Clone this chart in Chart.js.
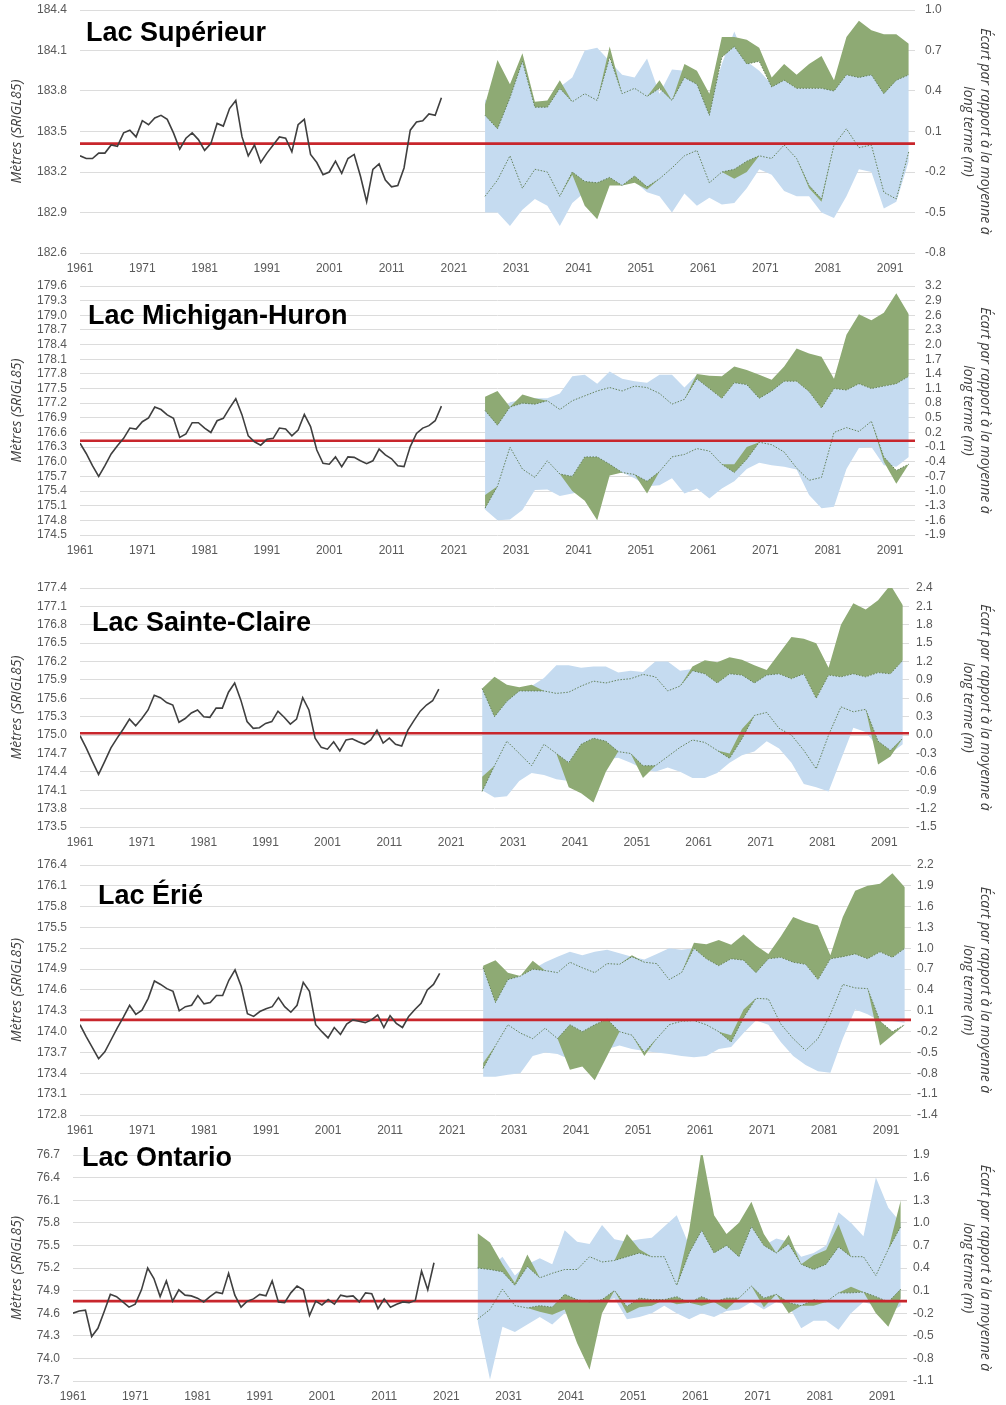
<!DOCTYPE html>
<html>
<head>
<meta charset="utf-8">
<script src="https://cdn.jsdelivr.net/npm/chart.js@4.4.1/dist/chart.umd.min.js"></script>
<style>
  html, body { margin: 0; padding: 0; background: #fff; }
  #page { position: relative; width: 1006px; height: 1405px; overflow: hidden; }
  .panel { position: absolute; left: 0; width: 1006px; }
  .lake { position: absolute; font-family: 'Liberation Sans', Arial, sans-serif; font-weight: bold;
          font-size: 27px; line-height: 27px; color: #000; white-space: nowrap; }
</style>
</head>
<body>
<div id="page"></div>
<script>
// x categories
const histYears = [];
for (let y = 1961; y <= 2019; y++) histYears.push(y);
const projYears = [2026, 2028, 2030, 2032, 2034, 2036, 2038, 2040, 2042, 2044, 2046, 2048, 2050, 2052, 2054, 2056, 2058, 2060,
  2062, 2064, 2066, 2068, 2070, 2072, 2074, 2076, 2078, 2080, 2082, 2084, 2086, 2088, 2090, 2092, 2094];
const xTickYears = [1961, 1971, 1981, 1991, 2001, 2011, 2021, 2031, 2041, 2051, 2061, 2071, 2081, 2091];

const lakeNames = ['Lac Supérieur', 'Lac Michigan-Huron', 'Lac Sainte-Claire', 'Lac Érié', 'Lac Ontario'];
const longTermMeans = [183.41, 176.43, 175.03, 174.17, 74.76];
const leftRanges = [[182.6, 184.4], [174.5, 179.6], [173.5, 177.4], [172.8, 176.4], [73.7, 76.7]];
const rightRanges = [[-0.8, 1.0], [-1.9, 3.2], [-1.5, 2.4], [-1.4, 2.2], [-1.1, 1.9]];

// observed levels (m, SRIGL85)
const supHist = [183.32, 183.30, 183.30, 183.34, 183.34, 183.40, 183.39, 183.49, 183.51, 183.46,
  183.58, 183.55, 183.60, 183.62, 183.59, 183.49, 183.37, 183.45, 183.49, 183.44,
  183.36, 183.41, 183.56, 183.54, 183.67, 183.73, 183.46, 183.32, 183.40, 183.27,
  183.34, 183.40, 183.46, 183.45, 183.35, 183.55, 183.59, 183.33, 183.27, 183.18,
  183.20, 183.28, 183.19, 183.30, 183.33, 183.17, 182.98, 183.22, 183.26, 183.14,
  183.09, 183.10, 183.23, 183.51, 183.57, 183.58, 183.63, 183.62, 183.75];
const michHist = [176.38, 176.17, 175.92, 175.70, 175.92, 176.16, 176.33, 176.48, 176.69, 176.67,
  176.82, 176.90, 177.12, 177.07, 176.96, 176.89, 176.50, 176.57, 176.80, 176.80,
  176.69, 176.60, 176.84, 176.89, 177.10, 177.29, 176.96, 176.53, 176.41, 176.34,
  176.46, 176.48, 176.69, 176.67, 176.53, 176.65, 176.97, 176.72, 176.24, 175.97,
  175.95, 176.10, 175.90, 176.10, 176.09, 176.02, 175.96, 176.02, 176.26, 176.14,
  176.06, 175.92, 175.90, 176.31, 176.58, 176.69, 176.74, 176.84, 177.14];
const clairHist = [174.99, 174.79, 174.57, 174.36, 174.57, 174.79, 174.95, 175.10, 175.26, 175.15,
  175.27, 175.41, 175.65, 175.61, 175.53, 175.49, 175.21, 175.27, 175.36, 175.41,
  175.30, 175.29, 175.44, 175.44, 175.70, 175.85, 175.57, 175.22, 175.11, 175.12,
  175.19, 175.22, 175.39, 175.29, 175.18, 175.26, 175.61, 175.41, 174.95, 174.80,
  174.77, 174.89, 174.74, 174.92, 174.94, 174.89, 174.85, 174.92, 175.08, 174.87,
  174.95, 174.85, 174.82, 175.08, 175.24, 175.39, 175.49, 175.56, 175.75];
const erieHist = [174.10, 173.93, 173.77, 173.61, 173.71, 173.88, 174.05, 174.21, 174.38, 174.25,
  174.31, 174.48, 174.73, 174.68, 174.62, 174.58, 174.30, 174.36, 174.38, 174.52,
  174.40, 174.42, 174.52, 174.52, 174.74, 174.89, 174.65, 174.26, 174.22, 174.29,
  174.33, 174.36, 174.49, 174.36, 174.28, 174.38, 174.71, 174.58, 174.10, 174.00,
  173.91, 174.06, 173.96, 174.11, 174.17, 174.15, 174.13, 174.17, 174.24, 174.06,
  174.23, 174.12, 174.06, 174.22, 174.32, 174.41, 174.60, 174.68, 174.84];
const ontHist = [74.60, 74.63, 74.64, 74.29, 74.40, 74.62, 74.85, 74.82, 74.75, 74.68,
  74.72, 74.91, 75.20, 75.06, 74.82, 75.03, 74.76, 74.91, 74.84, 74.83,
  74.80, 74.75, 74.82, 74.88, 74.86, 75.13, 74.84, 74.68, 74.76, 74.79,
  74.85, 74.83, 75.03, 74.75, 74.74, 74.87, 74.96, 74.91, 74.57, 74.76,
  74.71, 74.78, 74.72, 74.84, 74.82, 74.83, 74.75, 74.87, 74.86, 74.66,
  74.79, 74.68, 74.72, 74.75, 74.74, 74.77, 75.16, 74.91, 75.27];

// projections, deviation from long-term mean (m)
// Dhi/Dlo = dotted lines, Ghi/Glo = green envelope edge, Bhi/Blo = blue envelope
const supDhi = [0.22, 0.12, 0.35, 0.62, 0.28, 0.28, 0.42, 0.32, 0.38, 0.33, 0.65, 0.38, 0.42, 0.36, 0.42, 0.33, 0.5, 0.45, 0.22, 0.65, 0.73, 0.6, 0.62, 0.43, 0.48, 0.42, 0.42, 0.42, 0.4, 0.52, 0.5, 0.52, 0.38, 0.48, 0.52];
const supGhi = [0.3, 0.63, 0.45, 0.68, 0.32, 0.33, 0.48, 0.32, 0.38, 0.33, 0.73, 0.38, 0.42, 0.36, 0.48, 0.33, 0.6, 0.55, 0.38, 0.8, 0.8, 0.78, 0.72, 0.5, 0.6, 0.52, 0.6, 0.66, 0.48, 0.8, 0.92, 0.85, 0.82, 0.82, 0.75];
const supBhi = [0.34, 0.2, 0.42, 0.63, 0.3, 0.28, 0.43, 0.5, 0.7, 0.72, 0.62, 0.52, 0.5, 0.64, 0.38, 0.56, 0.55, 0.47, 0.3, 0.6, 0.84, 0.62, 0.55, 0.45, 0.48, 0.42, 0.42, 0.42, 0.42, 0.52, 0.52, 0.54, 0.4, 0.5, 0.52];
const supBlo = [-0.5, -0.5, -0.6, -0.48, -0.4, -0.45, -0.6, -0.43, -0.35, -0.35, -0.28, -0.3, -0.27, -0.35, -0.38, -0.5, -0.36, -0.45, -0.39, -0.44, -0.43, -0.32, -0.18, -0.22, -0.34, -0.38, -0.38, -0.5, -0.54, -0.38, -0.18, -0.2, -0.47, -0.42, -0.12];
const supDlo = [-0.38, -0.26, -0.08, -0.32, -0.18, -0.2, -0.38, -0.2, -0.27, -0.28, -0.24, -0.3, -0.23, -0.31, -0.25, -0.17, -0.08, -0.04, -0.28, -0.2, -0.18, -0.12, -0.08, -0.1, 0.0, -0.1, -0.3, -0.4, 0.0, 0.12, -0.02, 0.0, -0.35, -0.4, -0.05];
const supGlo = [-0.38, -0.26, -0.08, -0.32, -0.18, -0.2, -0.38, -0.22, -0.45, -0.55, -0.3, -0.3, -0.28, -0.33, -0.25, -0.17, -0.08, -0.04, -0.28, -0.2, -0.25, -0.2, -0.08, -0.1, 0.0, -0.1, -0.32, -0.42, 0.0, 0.12, -0.02, 0.0, -0.35, -0.4, -0.05];

const michDhi = [0.65, 0.35, 0.72, 0.8, 0.78, 0.85, 0.67, 0.85, 0.95, 1.05, 1.12, 1.05, 1.15, 1.12, 1.0, 0.78, 0.88, 1.3, 1.1, 0.9, 1.22, 1.18, 0.9, 1.05, 1.25, 1.25, 1.04, 0.7, 1.1, 1.07, 1.2, 1.1, 1.15, 1.2, 1.35];
const michGhi = [0.93, 1.05, 0.72, 0.98, 0.9, 0.85, 0.67, 0.85, 0.95, 1.05, 1.12, 1.05, 1.15, 1.12, 1.0, 0.78, 0.88, 1.4, 1.36, 1.35, 1.55, 1.48, 1.38, 1.28, 1.55, 1.92, 1.82, 1.75, 1.3, 2.2, 2.62, 2.5, 2.65, 3.05, 2.62];
const michBhi = [0.9, 0.5, 0.82, 0.87, 0.9, 0.9, 1.0, 1.35, 1.38, 1.2, 1.45, 1.3, 1.25, 1.22, 1.38, 1.38, 1.12, 1.38, 1.1, 0.9, 1.22, 1.2, 1.2, 1.2, 1.25, 1.25, 1.04, 0.7, 1.1, 1.07, 1.2, 1.1, 1.15, 1.2, 1.35];
const michBlo = [-1.38, -1.6, -1.58, -1.39, -0.98, -0.97, -1.1, -1.05, -1.0, -0.9, -0.6, -0.62, -0.74, -0.9, -0.88, -0.74, -1.05, -0.95, -1.15, -0.95, -0.8, -0.55, -0.42, -0.47, -0.5, -0.56, -1.08, -1.35, -1.32, -0.55, -0.12, -0.1, -0.47, -0.5, -0.3];
const michDlo = [-1.35, -0.9, -0.1, -0.55, -0.72, -0.38, -0.65, -0.7, -0.3, -0.3, -0.45, -0.62, -0.66, -0.8, -0.6, -0.3, -0.25, -0.13, -0.18, -0.45, -0.62, -0.35, 0.0, -0.05, -0.2, -0.53, -0.78, -0.72, 0.2, 0.3, 0.22, 0.43, -0.3, -0.58, -0.45];
const michGlo = [-1.08, -0.9, -0.1, -0.55, -0.72, -0.38, -0.65, -1.0, -1.2, -1.6, -0.68, -0.62, -0.66, -1.05, -0.6, -0.3, -0.25, -0.13, -0.18, -0.45, -0.45, -0.1, 0.0, -0.05, -0.2, -0.53, -0.78, -0.72, 0.2, 0.3, 0.22, 0.43, -0.4, -0.85, -0.45];

const clairDhi = [0.76, 0.3, 0.55, 0.72, 0.72, 0.72, 0.68, 0.7, 0.8, 0.88, 0.85, 0.9, 0.92, 0.99, 0.95, 0.72, 0.8, 1.05, 1.0, 0.85, 1.0, 0.98, 0.85, 0.98, 1.0, 0.92, 1.0, 0.6, 0.98, 0.95, 1.0, 0.95, 1.02, 1.0, 1.22];
const clairGhi = [0.76, 0.95, 0.82, 0.78, 0.82, 0.72, 0.68, 0.7, 0.8, 0.88, 0.85, 0.9, 0.92, 0.99, 0.95, 0.72, 0.8, 1.12, 1.22, 1.19, 1.27, 1.23, 1.14, 1.06, 1.33, 1.6, 1.57, 1.5, 1.1, 1.8, 2.15, 2.05, 2.2, 2.45, 2.12];
const clairBhi = [0.76, 0.4, 0.6, 0.72, 0.8, 0.93, 1.14, 1.14, 1.1, 1.12, 1.12, 1.02, 1.05, 1.03, 1.2, 1.2, 1.05, 1.08, 1.0, 0.85, 1.0, 0.98, 1.0, 1.0, 1.0, 0.92, 1.0, 0.6, 0.98, 0.95, 1.0, 0.95, 1.02, 1.0, 1.22];
const clairBlo = [-0.9, -1.02, -1.0, -0.75, -0.62, -0.65, -0.72, -0.75, -0.7, -0.6, -0.4, -0.37, -0.45, -0.55, -0.6, -0.53, -0.6, -0.7, -0.7, -0.62, -0.45, -0.33, -0.27, -0.1, -0.22, -0.45, -0.8, -0.85, -0.92, -0.4, 0.12, 0.05, -0.2, -0.3, -0.15];
const clairDlo = [-0.92, -0.5, -0.1, -0.3, -0.5, -0.15, -0.3, -0.45, -0.15, -0.05, -0.1, -0.27, -0.3, -0.5, -0.5, -0.35, -0.2, -0.08, -0.12, -0.25, -0.38, -0.06, 0.32, 0.37, 0.11, 0.0, -0.25, -0.55, 0.0, 0.46, 0.38, 0.42, -0.1, -0.25, -0.05];
const clairGlo = [-0.68, -0.5, -0.1, -0.3, -0.5, -0.15, -0.3, -0.85, -0.95, -1.1, -0.6, -0.27, -0.3, -0.7, -0.5, -0.35, -0.2, -0.08, -0.12, -0.25, -0.3, 0.1, 0.32, 0.37, 0.11, 0.0, -0.25, -0.55, 0.0, 0.46, 0.38, 0.42, -0.48, -0.35, -0.05];

const erieDhi = [0.72, 0.22, 0.55, 0.6, 0.7, 0.68, 0.65, 0.8, 0.72, 0.65, 0.78, 0.77, 0.88, 0.8, 0.78, 0.55, 0.65, 1.0, 0.85, 0.75, 0.85, 0.83, 0.65, 0.85, 0.87, 0.8, 0.77, 0.55, 0.85, 0.88, 0.92, 0.85, 0.95, 0.87, 1.0];
const erieGhi = [0.75, 0.83, 0.65, 0.6, 0.82, 0.68, 0.65, 0.8, 0.72, 0.65, 0.78, 0.77, 0.9, 0.8, 0.78, 0.55, 0.65, 1.08, 1.06, 1.12, 1.05, 1.2, 1.04, 0.92, 1.17, 1.45, 1.38, 1.33, 0.9, 1.45, 1.83, 1.9, 1.93, 2.08, 1.88];
const erieBhi = [0.72, 0.25, 0.58, 0.6, 0.7, 0.8, 0.88, 0.95, 0.9, 0.95, 0.98, 0.93, 0.88, 0.84, 0.92, 1.0, 0.98, 1.0, 0.85, 0.75, 0.85, 0.83, 0.75, 0.85, 0.87, 0.8, 0.77, 0.55, 0.85, 0.88, 0.92, 0.85, 0.95, 0.87, 1.0];
const erieBlo = [-0.85, -0.85, -0.82, -0.8, -0.55, -0.5, -0.52, -0.6, -0.6, -0.6, -0.45, -0.4, -0.45, -0.48, -0.5, -0.52, -0.55, -0.57, -0.55, -0.45, -0.42, -0.22, -0.04, -0.1, -0.35, -0.55, -0.68, -0.77, -0.79, -0.3, 0.12, 0.05, -0.05, -0.05, -0.07];
const erieDlo = [-0.73, -0.4, -0.1, -0.22, -0.3, -0.15, -0.3, -0.1, -0.2, -0.1, -0.02, -0.2, -0.25, -0.5, -0.3, -0.1, -0.05, -0.04, -0.1, -0.2, -0.35, 0.0, 0.28, 0.27, -0.09, -0.3, -0.47, -0.3, 0.05, 0.48, 0.43, 0.42, -0.05, -0.2, -0.1];
const erieGlo = [-0.65, -0.4, -0.1, -0.22, -0.3, -0.15, -0.3, -0.75, -0.7, -0.9, -0.55, -0.2, -0.25, -0.55, -0.3, -0.1, -0.05, -0.04, -0.1, -0.2, -0.25, 0.12, 0.28, 0.27, -0.09, -0.3, -0.47, -0.3, 0.05, 0.48, 0.43, 0.42, -0.4, -0.25, -0.1];

const ontDhi = [0.4, 0.38, 0.35, 0.17, 0.42, 0.27, 0.33, 0.38, 0.38, 0.55, 0.48, 0.5, 0.55, 0.6, 0.55, 0.55, 0.17, 0.6, 0.9, 0.6, 0.7, 0.55, 0.95, 0.7, 0.6, 0.72, 0.45, 0.38, 0.45, 0.68, 0.55, 0.55, 0.3, 0.65, 0.95];
const ontGhi = [0.86, 0.74, 0.45, 0.2, 0.58, 0.27, 0.33, 0.38, 0.38, 0.55, 0.48, 0.5, 0.85, 0.65, 0.55, 0.55, 0.17, 0.9, 1.98, 1.1, 0.85, 1.0, 1.28, 0.85, 0.6, 0.84, 0.45, 0.57, 0.64, 0.98, 0.55, 0.55, 0.3, 0.65, 1.3];
const ontBhi = [0.5, 0.4, 0.55, 0.3, 0.45, 0.53, 0.45, 0.9, 0.75, 0.72, 0.97, 0.78, 0.75, 0.78, 0.8, 0.95, 1.1, 0.7, 0.95, 0.6, 0.72, 0.69, 0.95, 0.7, 0.79, 0.75, 0.55, 0.6, 0.7, 1.14, 1.0, 0.82, 1.6, 1.2, 1.0];
const ontBlo = [-0.3, -1.08, -0.38, -0.45, -0.35, -0.25, -0.35, -0.2, -0.1, -0.15, -0.05, 0.0, -0.28, -0.25, -0.2, -0.1, -0.2, -0.28, -0.2, -0.25, -0.17, -0.15, -0.05, -0.15, -0.05, -0.1, -0.4, -0.3, -0.3, -0.42, -0.2, -0.05, -0.1, -0.2, -0.1];
const ontDlo = [-0.28, -0.15, 0.12, -0.1, -0.13, -0.1, -0.12, 0.05, -0.02, -0.05, -0.02, 0.1, -0.11, 0.0, -0.02, -0.02, 0.02, -0.06, 0.02, -0.05, 0.0, 0.0, 0.16, 0.0, 0.05, -0.06, -0.1, -0.02, -0.05, 0.07, 0.07, 0.08, 0.02, -0.05, 0.12];
const ontGlo = [-0.28, -0.15, 0.12, -0.1, -0.13, -0.18, -0.22, -0.15, -0.6, -0.95, -0.2, 0.1, -0.2, -0.12, -0.1, -0.02, -0.08, -0.06, -0.1, -0.05, -0.15, 0.0, 0.16, -0.12, 0.05, -0.2, -0.1, -0.1, -0.05, 0.07, 0.15, 0.08, -0.2, -0.38, 0.0];

const hists = [supHist, michHist, clairHist, erieHist, ontHist];
const dhis = [supDhi, michDhi, clairDhi, erieDhi, ontDhi];
const ghis = [supGhi, michGhi, clairGhi, erieGhi, ontGhi];
const bhis = [supBhi, michBhi, clairBhi, erieBhi, ontBhi];
const blos = [supBlo, michBlo, clairBlo, erieBlo, ontBlo];
const dlos = [supDlo, michDlo, clairDlo, erieDlo, ontDlo];
const glos = [supGlo, michGlo, clairGlo, erieGlo, ontGlo];

// page layout of each plot area (px) and title position
const layouts = [
  { top: 10,   bottom: 253,  left: 80, right: 915, nameX: 86, nameY: 19,   rPad: 10 },
  { top: 286,  bottom: 535,  left: 80, right: 915, nameX: 88, nameY: 302,  rPad: 10 },
  { top: 588,  bottom: 827,  left: 80, right: 909, nameX: 92, nameY: 609,  rPad: 7 },
  { top: 865,  bottom: 1115, left: 80, right: 911, nameX: 98, nameY: 882,  rPad: 6 },
  { top: 1155, bottom: 1381, left: 73, right: 907, nameX: 82, nameY: 1144, rPad: 6 }
];

const BLUE = 'rgb(197, 219, 240)';
const GREEN = 'rgb(142, 170, 116)';
const DOT = 'rgba(95, 125, 85, 0.95)';
const GRID = '#dcdcdc';
const TICK = '#595959';
const TOP_PAD = 22;

Chart.defaults.font.family = "'Liberation Sans', Arial, sans-serif";
Chart.defaults.font.size = 12;

function pts(xs, ys) {
  return xs.map((x, i) => ({ x: x, y: ys[i] }));
}

const page = document.getElementById('page');

function drawPanel(i) {
  const L = layouts[i];
  const canvasTop = L.top - TOP_PAD;
  const h = L.bottom - canvasTop + 26;

  const wrap = document.createElement('div');
  wrap.className = 'panel';
  wrap.style.top = canvasTop + 'px';
  wrap.style.height = h + 'px';
  const canvas = document.createElement('canvas');
  canvas.width = 1006;
  canvas.height = h;
  wrap.appendChild(canvas);
  page.appendChild(wrap);

  const name = document.createElement('div');
  name.className = 'lake';
  name.textContent = lakeNames[i];
  name.style.left = L.nameX + 'px';
  name.style.top = L.nameY + 'px';
  page.appendChild(name);

  const noLine = 'rgba(0,0,0,0)';

  new Chart(canvas, {
    type: 'line',
    data: {
      datasets: [
        { data: pts(histYears, hists[i]), yAxisID: 'yL', borderColor: '#3f3f3f', borderWidth: 1.6, fill: false },
        { data: [{ x: 1961, y: longTermMeans[i] }, { x: 2095, y: longTermMeans[i] }], yAxisID: 'yL',
          borderColor: 'rgb(200, 38, 44)', borderWidth: 2.6, fill: false },
        { data: pts(projYears, dhis[i]), yAxisID: 'yR', borderColor: DOT, borderWidth: 1, borderDash: [1.5, 1.5], fill: false },
        { data: pts(projYears, dlos[i]), yAxisID: 'yR', borderColor: DOT, borderWidth: 1, borderDash: [1.5, 1.5], fill: false },
        { data: pts(projYears, ghis[i]), yAxisID: 'yR', borderColor: noLine, borderWidth: 0, backgroundColor: GREEN, fill: 2 },
        { data: pts(projYears, glos[i]), yAxisID: 'yR', borderColor: noLine, borderWidth: 0, backgroundColor: GREEN, fill: 3 },
        { data: pts(projYears, bhis[i]), yAxisID: 'yR', borderColor: noLine, borderWidth: 0, backgroundColor: BLUE, fill: 7 },
        { data: pts(projYears, blos[i]), yAxisID: 'yR', borderColor: noLine, borderWidth: 0, fill: false }
      ]
    },
    options: {
      responsive: false,
      animation: false,
      events: [],
      layout: { padding: { top: TOP_PAD, left: 0, right: 0, bottom: 0 } },
      elements: { point: { radius: 0 }, line: { tension: 0 } },
      plugins: { legend: { display: false }, tooltip: { enabled: false } },
      scales: {
        x: {
          type: 'linear', position: 'bottom', min: 1961, max: 2095,
          grid: { display: false, drawTicks: false }, border: { display: false },
          afterBuildTicks: s => { s.ticks = xTickYears.map(v => ({ value: v })); },
          afterFit: s => { s.height = 26; },
          ticks: { autoSkip: false, maxRotation: 0, padding: 8, color: TICK, font: { size: 12 },
                   callback: v => String(v) }
        },
        yL: {
          position: 'left', min: leftRanges[i][0], max: leftRanges[i][1],
          grid: { color: GRID, lineWidth: 1, drawTicks: false }, border: { display: false },
          afterFit: s => { s.width = L.left; },
          ticks: { stepSize: 0.3, autoSkip: false, padding: 13, color: TICK, font: { size: 12 },
                   callback: v => v.toFixed(1) },
          title: { display: true, text: 'Mètres (SRIGL85)', color: '#404040', padding: { top: 8.5 },
                   font: { family: "'Open Sans', sans-serif", size: 14, style: 'italic', lineHeight: 1.2 } }
        },
        yR: {
          position: 'right', min: rightRanges[i][0], max: rightRanges[i][1],
          grid: { display: false, drawTicks: false }, border: { display: false },
          afterFit: s => { s.width = 1006 - L.right; },
          ticks: { stepSize: 0.3, autoSkip: false, padding: L.rPad, color: TICK, font: { size: 12 },
                   callback: v => v.toFixed(1) },
          title: { display: true, text: ['Écart par rapport à la moyenne à', 'long terme (m)'], color: '#404040',
                   padding: { top: 12.5 },
                   font: { family: "'Open Sans', sans-serif", size: 14, style: 'italic', lineHeight: 1.2 } }
        }
      }
    }
  });
}

for (let i = 0; i < layouts.length; i++) drawPanel(i);
</script>
</body>
</html>
